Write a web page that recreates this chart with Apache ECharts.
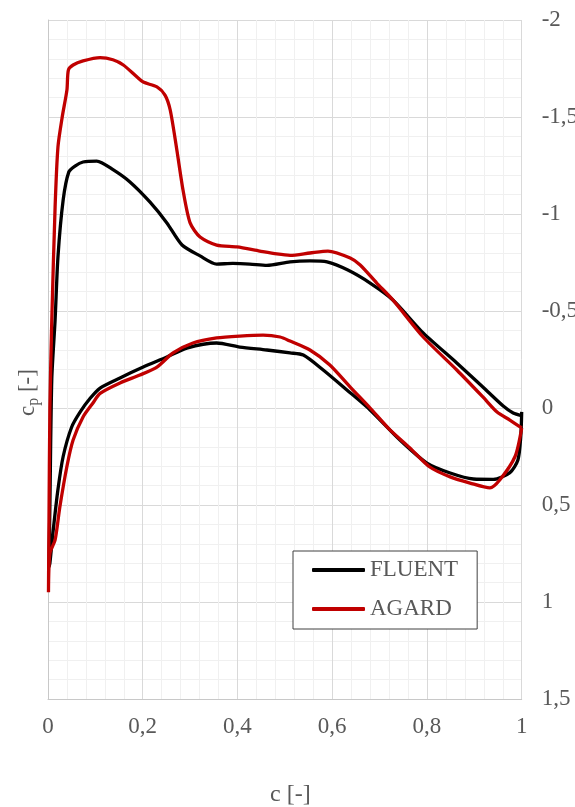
<!DOCTYPE html>
<html>
<head>
<meta charset="utf-8">
<script src="https://cdn.jsdelivr.net/npm/echarts@6/dist/echarts.min.js"></script>
<style>html,body{margin:0;padding:0;background:#fff}#c{width:575px;height:807px}</style>
</head>
<body>
<div id="c"></div>
<script>
// FLUENT: upper surface (TE -> LE) then lower surface (LE -> TE)
const fluentX = [1.0, 0.982, 0.961, 0.918, 0.863, 0.792, 0.728, 0.680, 0.633, 0.589, 0.553, 0.511, 0.462, 0.426, 0.39, 0.356, 0.321, 0.283, 0.251, 0.215, 0.173, 0.138, 0.103, 0.074, 0.057, 0.044, 0.032, 0.021, 0.015, 0.008, 0.004, 0.002,
  0.004, 0.011, 0.021, 0.032, 0.05, 0.068, 0.089, 0.110, 0.152, 0.201, 0.251, 0.293, 0.356, 0.405, 0.462, 0.511, 0.539, 0.581, 0.631, 0.680, 0.743, 0.800, 0.849, 0.898, 0.940, 0.975, 0.992, 0.998, 1.0];
const fluentCp = [0.04, 0.026, -0.01, -0.108, -0.232, -0.387, -0.557, -0.644, -0.711, -0.753, -0.758, -0.753, -0.735, -0.742, -0.745, -0.742, -0.784, -0.840, -0.954, -1.062, -1.165, -1.227, -1.273, -1.268, -1.247, -1.217, -1.072, -0.778, -0.454, -0.15, 0.5, 0.82,
  0.80, 0.63, 0.42, 0.25, 0.098, 0.02, -0.05, -0.103, -0.155, -0.211, -0.263, -0.309, -0.335, -0.314, -0.299, -0.284, -0.273, -0.196, -0.093, 0.010, 0.165, 0.284, 0.335, 0.366, 0.368, 0.333, 0.268, 0.149, 0.02];
// AGARD: upper surface (TE -> LE) then lower surface (LE -> TE)
const agardX = [1.0, 0.975, 0.948, 0.918, 0.863, 0.792, 0.728, 0.694, 0.659, 0.638, 0.591, 0.553, 0.511, 0.483, 0.447, 0.399, 0.356, 0.321, 0.300, 0.285, 0.272, 0.258, 0.247, 0.23, 0.201, 0.188, 0.159, 0.137, 0.11, 0.074, 0.053, 0.043, 0.040, 0.030, 0.021, 0.015, 0.008, 0.004, 0.002, 0.001,
  0.004, 0.015, 0.025, 0.04, 0.053, 0.074, 0.095, 0.110, 0.152, 0.194, 0.230, 0.264, 0.306, 0.356, 0.405, 0.454, 0.490, 0.511, 0.553, 0.595, 0.638, 0.680, 0.722, 0.764, 0.806, 0.849, 0.891, 0.933, 0.954, 0.986, 1.0];
const agardCp = [0.103, 0.062, 0.021, -0.057, -0.196, -0.366, -0.557, -0.644, -0.737, -0.773, -0.809, -0.799, -0.787, -0.794, -0.809, -0.830, -0.840, -0.881, -0.954, -1.124, -1.330, -1.536, -1.613, -1.655, -1.68, -1.706, -1.768, -1.795, -1.806, -1.789, -1.768, -1.742, -1.64, -1.5, -1.345, -1.036, -0.454, 0.0, 0.6, 0.95,
  0.75, 0.68, 0.51, 0.30, 0.165, 0.046, -0.026, -0.075, -0.129, -0.170, -0.211, -0.284, -0.335, -0.361, -0.371, -0.376, -0.366, -0.345, -0.299, -0.222, -0.108, 0.0, 0.113, 0.206, 0.304, 0.355, 0.387, 0.412, 0.37, 0.25, 0.103];

const zip = (xs, ys) => xs.map((x, i) => [x, ys[i]]);
const txt = '#595959';
const font = 'Liberation Serif';
const fmt = v => String(Math.round(v * 100) / 100).replace('.', ',');

const chart = echarts.init(document.getElementById('c'), null, {renderer: 'canvas'});
chart.setOption({
  animation: false,
  backgroundColor: '#fff',
  grid: {left: 48, right: 53.3, top: 20, bottom: 108, containLabel: false, outerBoundsMode: 'none'},
  xAxis: {
    type: 'value', min: 0, max: 1, interval: 0.2,
    axisLine: {show: true, onZero: false, lineStyle: {color: '#c8c8c8', width: 1}},
    axisTick: {show: false},
    axisLabel: {color: txt, fontFamily: font, fontSize: 23, margin: 16, formatter: fmt},
    splitLine: {show: true, lineStyle: {color: '#d9d9d9', width: 1}},
    minorTick: {show: false, splitNumber: 5},
    minorSplitLine: {show: true, lineStyle: {color: '#f0f0f0', width: 1}}
  },
  yAxis: [{
    type: 'value', position: 'right', inverse: true, min: -2, max: 1.5, interval: 0.5,
    axisLine: {show: false},
    axisTick: {show: false},
    axisLabel: {color: txt, fontFamily: font, fontSize: 23, margin: 20, align: 'left', formatter: fmt},
    splitLine: {show: true, lineStyle: {color: '#d9d9d9', width: 1}},
    minorTick: {show: false, splitNumber: 5},
    minorSplitLine: {show: true, lineStyle: {color: '#f0f0f0', width: 1}}
  }, {
    type: 'value', position: 'left', inverse: true, min: -2, max: 1.5, interval: 0.5,
    axisLine: {show: true, onZero: false, lineStyle: {color: '#c8c8c8', width: 1}},
    axisTick: {show: false}, axisLabel: {show: false}, splitLine: {show: false}
  }],
  legend: {
    left: 293, top: 551,
    orient: 'vertical',
    backgroundColor: '#fff',
    borderColor: '#404040', borderWidth: 1, borderRadius: 0,
    padding: [6, 19, 7, 19],
    icon: 'roundRect',
    itemWidth: 53, itemHeight: 4, itemGap: 13,
    textStyle: {color: txt, fontFamily: font, fontSize: 23, lineHeight: 26, padding: [0, 0, 0, 0]},
    data: ['FLUENT', 'AGARD']
  },
  series: [
    {name: 'FLUENT', type: 'line', data: zip(fluentX, fluentCp), symbol: 'none', smooth: 0.25,
     lineStyle: {color: '#000000', width: 3.3}, itemStyle: {color: '#000000'}},
    {name: 'AGARD', type: 'line', data: zip(agardX, agardCp), symbol: 'none', smooth: 0.25,
     lineStyle: {color: '#c00000', width: 3.3}, itemStyle: {color: '#c00000'}}
  ],
  graphic: [
    {type: 'text', x: 270, y: 783, style: {text: 'c [-]', fill: txt, font: '24px "Liberation Serif"'}},
    {type: 'text', x: 14, y: 416, rotation: Math.PI / 2,
     style: {text: '{c|c}{p|p}{c| [-]}', fill: txt,
       rich: {c: {fontSize: 23, fontFamily: font, fill: txt}, p: {fontSize: 16, fontFamily: font, fill: txt, padding: [12, 0, 0, 0]}}}}
  ]
});
</script>
</body>
</html>
